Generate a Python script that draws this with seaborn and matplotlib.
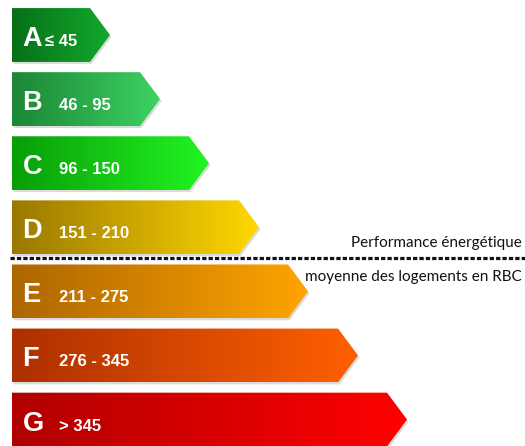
import numpy as np
import pandas as pd
import matplotlib
matplotlib.use("Agg")
import matplotlib.pyplot as plt
import seaborn as sns
from matplotlib.colors import LinearSegmentedColormap
from matplotlib.patches import Polygon

# ---- data ----
letters = ["A", "B", "C", "D", "E", "F", "G"]
ranges = ["≤ 45", "46 - 95", "96 - 150", "151 - 210", "211 - 275", "276 - 345", "> 345"]
lengths = [78, 128, 177, 227, 276, 326, 375]  # body length of each arrow (px)
left_colors = ["#077018", "#1c8636", "#089e08", "#9a7800", "#ad6600", "#ad3000", "#b00000"]
right_colors = ["#12a82c", "#3cd262", "#22f422", "#ffd800", "#ffa400", "#ff6000", "#ff0000"]
note_top = "Performance énergétique"
note_bottom = "moyenne des logements en RBC"

df = pd.DataFrame({"classe": letters, "longueur": lengths})

sns.set_theme(style="white")
plt.rcParams['font.family'] = ['Liberation Sans', 'DejaVu Sans']

fig = plt.figure(figsize=(5.25, 4.46), dpi=100)
ax = fig.add_axes([0, 0, 1, 1])
sns.barplot(data=df, x="longueur", y="classe", orient="h", width=0.84,
            color="white", linewidth=0, ax=ax)

PX = 64.1      # px per category step
TIP = 20       # arrow tip length (px)
XLIM = (-12, 513)
YLIM = (6.412, -0.546)

for i, p in enumerate(list(ax.patches)):
    x0, y0 = p.get_x(), p.get_y()
    x1, y1 = x0 + p.get_width(), y0 + p.get_height()
    yc = (y0 + y1) / 2
    p.set_visible(False)
    pts = [(x0, y0), (x1, y0), (x1 + TIP, yc), (x1, y1), (x0, y1)]
    # shadow
    sh = Polygon([(x + 1.5, y + 2.0 / PX) for x, y in pts], closed=True,
                 facecolor="#9a9a9a", alpha=0.35, edgecolor="none", zorder=1)
    ax.add_patch(sh)
    poly = Polygon(pts, closed=True, fill=False, linewidth=0, zorder=2)
    ax.add_patch(poly)
    cmap = LinearSegmentedColormap.from_list(f"g{i}", [left_colors[i], right_colors[i]])
    grad = np.linspace(0, 1, 256).reshape(1, -1)
    im = ax.imshow(grad, cmap=cmap, extent=(x0, x1 + TIP, y1, y0),
                   aspect="auto", zorder=2, interpolation="bilinear")
    im.set_clip_path(poly)
    ax.text(x0 + 10.5, yc + 11 / PX, letters[i], color="white", fontsize=19.5,
            fontweight="bold", va="baseline", ha="left", zorder=3)
    rx = x0 + (33 if i == 0 else 47)
    ax.text(rx, yc + 11 / PX, ranges[i], color="white", fontsize=12,
            fontweight="bold", va="baseline", ha="left", zorder=3)

# dotted separator
yline = (258 - 35) / PX
ax.plot([-2, 513], [yline, yline], color="#101020", lw=2.3,
        linestyle=(0, (1.35, 0.65)), solid_capstyle="butt",
        dash_capstyle="butt", zorder=4)

ax.text(510, (247 - 35) / PX, note_top, ha="right", va="baseline",
        fontsize=11, family=["Lato", "DejaVu Sans"], color="#111111")
ax.text(510, (281 - 35) / PX, note_bottom, ha="right", va="baseline",
        fontsize=11, family=["Lato", "DejaVu Sans"], color="#111111")

ax.set_xlim(*XLIM)
ax.set_ylim(*YLIM)
ax.axis("off")
fig.savefig("out.png", dpi=100, facecolor="white")
